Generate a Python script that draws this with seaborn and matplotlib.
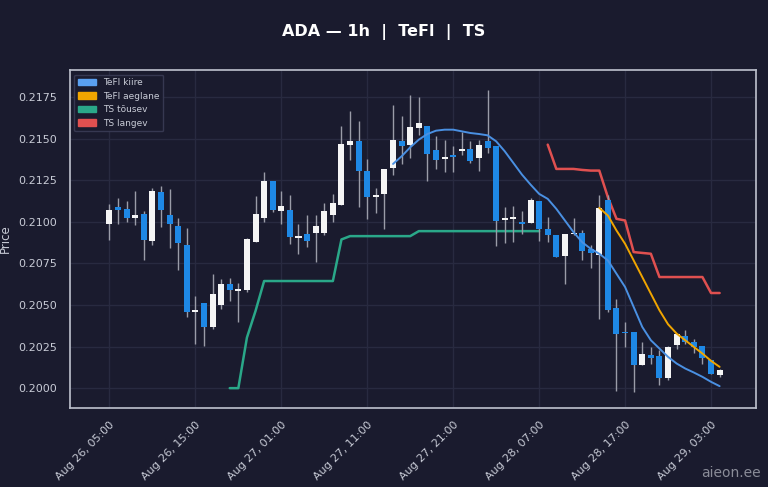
import numpy as np
import pandas as pd
import matplotlib
matplotlib.use("Agg")
import matplotlib.pyplot as plt
import matplotlib.patches as mpatches
import seaborn as sns

# OHLC tunniküünlad, Aug 26 05:00 ... Aug 29 04:00
opens = [0.20984, 0.2109, 0.21078, 0.2102, 0.2105, 0.20884, 0.2118, 0.2104, 0.20974, 0.2086,
         0.20456, 0.2051, 0.20368, 0.205, 0.20624, 0.20586, 0.2059, 0.2088, 0.21024, 0.21244,
         0.21064, 0.21074, 0.20904, 0.20924, 0.2093, 0.2093, 0.21044, 0.21104, 0.21464, 0.21484,
         0.21308, 0.2115, 0.2117, 0.21324, 0.21484, 0.21464, 0.21564, 0.21574, 0.2143, 0.21378,
         0.21404, 0.21428, 0.2144, 0.21384, 0.21488, 0.21454, 0.2101, 0.21014, 0.21, 0.20994,
         0.21128, 0.20958, 0.20918, 0.20792, 0.20924, 0.20932, 0.20838, 0.20798, 0.21132, 0.20484,
         0.20338, 0.20338, 0.20138, 0.20198, 0.20194, 0.20064, 0.20258, 0.20312, 0.20278, 0.20252,
         0.20168, 0.20078]
closes = [0.21074, 0.2107, 0.21024, 0.2104, 0.2089, 0.21184, 0.21074, 0.20984, 0.20874, 0.2046,
          0.20468, 0.20368, 0.20568, 0.20624, 0.2059, 0.20594, 0.20894, 0.21048, 0.21248, 0.21074,
          0.21094, 0.20908, 0.20914, 0.20884, 0.20974, 0.21064, 0.21112, 0.21468, 0.21488, 0.21304,
          0.21148, 0.21164, 0.2132, 0.21494, 0.21454, 0.21568, 0.21594, 0.21408, 0.21374, 0.2139,
          0.21392, 0.2144, 0.21368, 0.2146, 0.21444, 0.21004, 0.2102, 0.2103, 0.20988, 0.2113,
          0.20954, 0.20918, 0.20788, 0.20924, 0.2093, 0.20824, 0.20812, 0.21084, 0.20468, 0.20328,
          0.20334, 0.20138, 0.20204, 0.20184, 0.20058, 0.20248, 0.20324, 0.20278, 0.20248, 0.20184,
          0.20084, 0.20108]
highs = [0.21108, 0.21144, 0.21128, 0.21188, 0.21068, 0.21204, 0.21218, 0.212, 0.21024, 0.20964,
         0.20554, 0.2051, 0.20684, 0.20654, 0.2066, 0.20634, 0.209, 0.21154, 0.213, 0.21244,
         0.21184, 0.21164, 0.20984, 0.2104, 0.2104, 0.21114, 0.21168, 0.21574, 0.21664, 0.21608,
         0.21378, 0.21204, 0.2132, 0.21704, 0.21634, 0.2176, 0.2175, 0.21574, 0.21514, 0.21494,
         0.21454, 0.2154, 0.21484, 0.21494, 0.21794, 0.21454, 0.21088, 0.21094, 0.21064, 0.21144,
         0.21128, 0.21028, 0.20918, 0.20924, 0.21024, 0.20948, 0.20858, 0.21164, 0.21164, 0.20538,
         0.20398, 0.20338, 0.20278, 0.20248, 0.20232, 0.20252, 0.20324, 0.20352, 0.20298, 0.20252,
         0.20168, 0.20118]
lows = [0.2089, 0.20988, 0.21, 0.2098, 0.20768, 0.2086, 0.20968, 0.2084, 0.2071, 0.20428,
        0.20264, 0.20254, 0.20354, 0.20474, 0.20524, 0.204, 0.2058, 0.2088, 0.21, 0.2106,
        0.20988, 0.20868, 0.20804, 0.2085, 0.2076, 0.2092, 0.21, 0.211, 0.21374, 0.21088,
        0.21014, 0.21054, 0.20954, 0.21284, 0.21348, 0.21384, 0.2152, 0.21248, 0.2132, 0.213,
        0.213, 0.21404, 0.21354, 0.21308, 0.21414, 0.20854, 0.20874, 0.2088, 0.20924, 0.2099,
        0.20884, 0.20878, 0.20788, 0.20628, 0.2092, 0.20768, 0.20722, 0.20414, 0.20458, 0.19984,
        0.20248, 0.19978, 0.20138, 0.20148, 0.20018, 0.20048, 0.20238, 0.20264, 0.20212, 0.20148,
        0.20084, 0.20068]

# indikaatorid (algusindeks + väärtused)
fast_start = 33
tefl_fast = [0.21348, 0.21394, 0.21448, 0.21494, 0.21528, 0.21548, 0.21554, 0.21554, 0.21544, 0.21534,
             0.21528, 0.2152, 0.21484, 0.21424, 0.21354, 0.21284, 0.21224, 0.21168, 0.21138, 0.21078,
             0.21008, 0.20938, 0.20878, 0.20838, 0.20808, 0.20768, 0.20688, 0.20608, 0.20488, 0.20368,
             0.20288, 0.20238, 0.20188, 0.20148, 0.20118, 0.20094, 0.20068, 0.20038, 0.20012]
slow_start = 57
tefl_slow = [0.21084, 0.21038, 0.20948, 0.20868, 0.20768, 0.20668, 0.20568, 0.20468, 0.20384, 0.20328,
             0.20288, 0.20248, 0.20208, 0.20164, 0.20128]
up_start = 14
ts_up = [0.2, 0.2, 0.20304, 0.20464, 0.20644, 0.20644, 0.20644, 0.20644, 0.20644, 0.20644,
         0.20644, 0.20644, 0.20644, 0.20894, 0.20914, 0.20914, 0.20914, 0.20914, 0.20914, 0.20914,
         0.20914, 0.20914, 0.20944, 0.20944, 0.20944, 0.20944, 0.20944, 0.20944, 0.20944, 0.20944,
         0.20944, 0.20944, 0.20944, 0.20944, 0.20944, 0.20944, 0.20944]
down_start = 51
ts_down = [0.21464, 0.21318, 0.21318, 0.21318, 0.21312, 0.21308, 0.21308, 0.21148, 0.21018, 0.21008,
           0.20818, 0.20813, 0.20808, 0.20668, 0.20668, 0.20668, 0.20668, 0.20668, 0.20668, 0.20572,
           0.20572]

tick_pos = [0, 10, 20, 30, 40, 50, 60, 70]
tick_labels = ["Aug 26, 05:00", "Aug 26, 15:00", "Aug 27, 01:00", "Aug 27, 11:00",
               "Aug 27, 21:00", "Aug 28, 07:00", "Aug 28, 17:00", "Aug 29, 03:00"]

BG = "#1a1b2e"
FG = "#c8cbd6"
C_UP = "#f5f5f5"
C_DN = "#1e88e5"

sns.set_theme(style="darkgrid", rc={
    "figure.facecolor": BG, "axes.facecolor": BG, "axes.edgecolor": "#b8bcc8",
    "grid.color": "#282a40", "text.color": FG, "axes.labelcolor": FG,
    "xtick.color": FG, "ytick.color": FG,
})

fig = plt.figure(figsize=(7.68, 4.87), dpi=100)
ax = fig.add_axes([0.091, 0.162, 0.893, 0.694])

df = pd.DataFrame({"o": opens, "h": highs, "l": lows, "c": closes})
df["x"] = np.arange(len(df))
up = df["c"] >= df["o"]
colors = np.where(up, C_UP, C_DN)
ax.vlines(df["x"], df["l"], df["h"], colors="#9a9ca8", linewidth=1, zorder=2)
body = (df["c"] - df["o"]).abs().clip(lower=0.00006)
ax.bar(df["x"], body, bottom=df[["o", "c"]].min(axis=1), width=0.7, color=colors,
       linewidth=0, edgecolor="none", zorder=3)

def series(start, vals):
    return pd.DataFrame({"x": np.arange(start, start + len(vals)), "y": vals})

sns.lineplot(data=series(fast_start, tefl_fast), x="x", y="y", color="#4a90e2", lw=1.4, ax=ax, zorder=4)
sns.lineplot(data=series(slow_start, tefl_slow), x="x", y="y", color="#f0a500", lw=1.4, ax=ax, zorder=4)
sns.lineplot(data=series(up_start, ts_up), x="x", y="y", color="#2aa889", lw=1.8, ax=ax, zorder=1)
sns.lineplot(data=series(down_start, ts_down), x="x", y="y", color="#e05050", lw=1.8, ax=ax, zorder=1)

ax.set_xlim(-4.6, 75.2)
ax.set_ylim(0.1988, 0.21912)
ax.set_yticks([0.2, 0.2025, 0.205, 0.2075, 0.21, 0.2125, 0.215, 0.2175])
ax.set_yticklabels([f"{v:.4f}" for v in ax.get_yticks()], fontsize=8)
ax.set_xticks(tick_pos)
ax.set_xticklabels(tick_labels, rotation=45, ha="right", rotation_mode="anchor", fontsize=8)
ax.tick_params(axis="x", pad=2)
ax.set_xlabel("")
ax.set_ylabel("Price", fontsize=8.5, labelpad=4)
for s in ax.spines.values():
    s.set_visible(True)
    s.set_color("#b8bcc8")

handles = [mpatches.Patch(color=c, label=l) for c, l in
           [("#5aa0f0", "TeFl kiire"), ("#f0a500", "TeFl aeglane"),
            ("#2aa889", "TS tõusev"), ("#e05050", "TS langev")]]
leg = ax.legend(handles=handles, loc="upper left", fontsize=6.5, facecolor=BG,
                edgecolor="#3a3c55", framealpha=0.9, labelcolor=FG)

fig.suptitle("ADA — 1h  |  TeFl  |  TS", y=0.95, fontsize=11.5, fontweight="bold", color="white")
fig.text(0.99, 0.015, "aieon.ee", ha="right", va="bottom", fontsize=10, color="#8a8c98")

fig.savefig("out.png", dpi=100, facecolor=BG)
